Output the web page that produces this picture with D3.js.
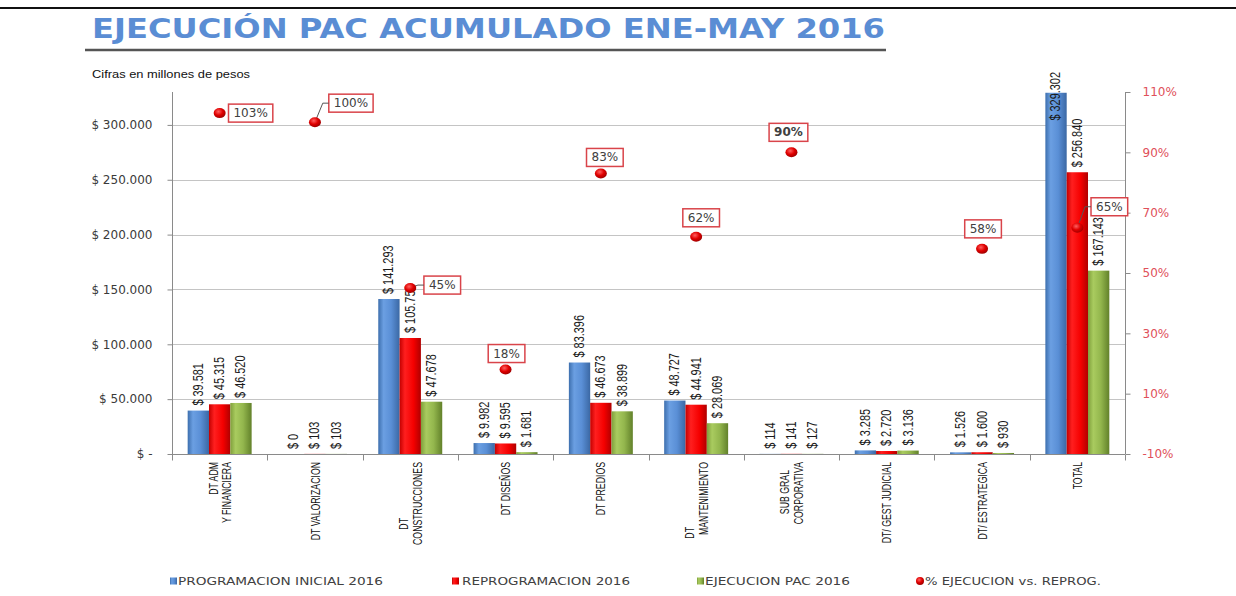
<!DOCTYPE html>
<html><head><meta charset="utf-8">
<script src="https://cdn.jsdelivr.net/npm/d3@7"></script>
<style>body{margin:0;background:#fff}</style>
</head><body><svg id="c" width="1236" height="596"></svg>
<script>
// ---- data ----
const title = "EJECUCIÓN PAC ACUMULADO ENE-MAY 2016";
const subtitle = "Cifras en millones de pesos";
const categories = [["DT ADM","Y FINANCIERA"],["DT VALORIZACION"],["DT","CONSTRUCCIONES"],["DT DISEÑOS"],["DT PREDIOS"],["DT","MANTENIMIENTO"],["SUB GRAL","CORPORATIVA"],["DT/ GEST JUDICIAL"],["DT/ ESTRATEGICA"],["TOTAL"]];
const seriesNames = ["PROGRAMACION INICIAL 2016","REPROGRAMACION 2016","EJECUCION PAC 2016"];
const pctName = "% EJECUCION vs. REPROG.";
const programacionInicial = [39581,0,141293,9982,83396,48727,114,3285,1526,329302];
const reprogramacion = [45315,103,105752,9595,46673,44941,141,2720,1600,256840];
const ejecucionPac = [46520,103,47678,1681,38899,28069,127,3136,930,167143];
const pctEjecucion = [103,100,45,18,83,62,90,null,58,65];
const leftTicks = [0,50000,100000,150000,200000,250000,300000];
const rightTicks = [-10,10,30,50,70,90,110];

// ---- layout (not data) ----
const plot = {x0:172, x1:1125, y0:92, y1:454};
const pctBox = [{dx:31,dy:0},{dx:36,dy:-19,leader:true},{dx:32,dy:-3,leader:true},{dx:1,dy:-16},{dx:4,dy:-16},{dx:5,dy:-19},{dx:-3,dy:-20,bold:true},null,{dx:1,dy:-20},{dx:32,dy:-21,leader:true}];
const xLabelShift = [[0,0],[0],[56,0],[0],[0],[65,0],[8,0],[0],[0],[0]];
const colors = ["blue","red","green"];
const SQ = 0.78;   // horizontal squeeze of value labels
const SQX = 0.7;   // squeeze of category labels

const svg = d3.select("#c");
const defs = svg.append("defs");
function hgrad(id, stops){
  const g = defs.append("linearGradient").attr("id",id).attr("x1","0").attr("x2","1").attr("y1","0").attr("y2","0");
  stops.forEach(s=>g.append("stop").attr("offset",s[0]).attr("stop-color",s[1]));
}
hgrad("blue",[["0%","#3d6fae"],["25%","#6b9fe2"],["60%","#5a8fd6"],["100%","#3b68a4"]]);
hgrad("red",[["0%","#c40000"],["25%","#ff1f1f"],["65%","#f50000"],["100%","#b00000"]]);
hgrad("green",[["0%","#7f9f3c"],["25%","#a9cb5f"],["60%","#93b64d"],["100%","#62812a"]]);
const rg = defs.append("radialGradient").attr("id","dot").attr("cx","40%").attr("cy","35%").attr("r","65%");
rg.append("stop").attr("offset","0%").attr("stop-color","#ff6060");
rg.append("stop").attr("offset","55%").attr("stop-color","#e00000");
rg.append("stop").attr("offset","100%").attr("stop-color","#a00000");

const sans = "'DejaVu Sans', 'Liberation Sans', sans-serif";
const lib = "'Liberation Sans', Arial, sans-serif";

// header
svg.append("line").attr("x1",0).attr("x2",1236).attr("y1",8).attr("y2",8).attr("stroke","#111").attr("stroke-width",2);
svg.append("text").attr("x",92).attr("y",38).attr("font-family",sans).attr("font-weight","bold")
  .attr("font-size",27).attr("fill","#5a8dd4").attr("textLength",793).attr("lengthAdjust","spacingAndGlyphs").text(title);
svg.append("line").attr("x1",85).attr("x2",886).attr("y1",50).attr("y2",50).attr("stroke","#555").attr("stroke-width",2.5);
svg.append("text").attr("x",92).attr("y",78).attr("font-family",lib)
  .attr("font-size",10.5).attr("fill","#111").attr("textLength",158).attr("lengthAdjust","spacingAndGlyphs").text(subtitle);

// scales
const x = d3.scaleBand().domain(d3.range(categories.length)).range([plot.x0, plot.x1]).paddingInner(0).paddingOuter(0);
const xs = d3.scaleBand().domain([0,1,2]).range([0, x.bandwidth()]).paddingInner(0).paddingOuter(0.735);
const y = d3.scaleLinear().domain([0,330000]).range([plot.y1, plot.y0]);
const y2 = d3.scaleLinear().domain([-10,110]).range([plot.y1, plot.y0]);
const loc = d3.formatLocale({decimal:",", thousands:".", grouping:[3], currency:["$",""]});
const fmt = loc.format(",");

// gridlines
svg.append("g").selectAll("line").data(leftTicks.filter(t=>t>0)).join("line")
  .attr("x1",plot.x0).attr("x2",plot.x1).attr("y1",d=>Math.round(y(d))+0.5).attr("y2",d=>Math.round(y(d))+0.5)
  .attr("stroke","#c4c4c4").attr("stroke-width",1);

// left axis
const la = svg.append("g").attr("transform",`translate(${plot.x0+0.5},0)`)
  .call(d3.axisLeft(y).tickValues(leftTicks).tickSize(5).tickPadding(15).tickFormat(d=>d===0?"$ -":"$ "+fmt(d)));
la.select(".domain").remove();
la.append("line").attr("y1",plot.y0).attr("y2",plot.y1).attr("stroke","#8a8a8a");
la.selectAll(".tick line").attr("stroke","#8a8a8a");
la.selectAll("text").attr("font-family",sans).attr("font-size",12).attr("fill","#3a3a3a");

// right axis
const ra = svg.append("g").attr("transform",`translate(${plot.x1+0.5},0)`)
  .call(d3.axisRight(y2).tickValues(rightTicks).tickSize(5).tickPadding(12).tickFormat(d=>d+"%"));
ra.select(".domain").remove();
ra.append("line").attr("y1",plot.y0).attr("y2",plot.y1).attr("stroke","#8a8a8a");
ra.selectAll(".tick line").attr("stroke","#8a8a8a");
ra.selectAll("text").attr("font-family",sans).attr("font-size",12).attr("fill","#e0505a");

// bottom axis
const ba = svg.append("g").attr("transform",`translate(0,${plot.y1+0.5})`);
ba.append("line").attr("x1",plot.x0).attr("x2",plot.x1).attr("stroke","#8a8a8a");
ba.selectAll("line.t").data(d3.range(categories.length+1)).join("line").attr("class","t")
  .attr("x1",d=>Math.round(plot.x0 + d*x.step())+0.5).attr("x2",d=>Math.round(plot.x0 + d*x.step())+0.5)
  .attr("y1",0).attr("y2",6).attr("stroke","#8a8a8a");

// bars
const seriesVals = [programacionInicial, reprogramacion, ejecucionPac];
const barG = svg.append("g");
const labG = svg.append("g");
seriesVals.forEach((vals, s)=>{
  barG.selectAll(null).data(vals).join("rect")
    .attr("x",(d,i)=>x(i)+xs(s)).attr("width",xs.bandwidth())
    .attr("y",d=>y(d)).attr("height",d=>Math.max(0,plot.y1-y(d)))
    .attr("fill",`url(#${colors[s]})`);
  vals.forEach((d,i)=>{
    const cx = x(i)+xs(s)+xs.bandwidth()/2;
    const t = labG.append("text").attr("font-family",lib).attr("font-size",14).attr("fill","#1a1a1a")
      .attr("text-anchor","start").attr("dominant-baseline","central").text("$ "+fmt(d));
    const len = t.node().getComputedTextLength()*SQ;
    let sy = y(d)-5;
    if (sy - len < 72) sy = 72 + len;
    t.attr("transform",`translate(${cx},${sy}) rotate(-90) scale(${SQ},1)`);
  });
});

// category labels
const xl = svg.append("g");
categories.forEach((lines,i)=>{
  const cx = x(i)+x.bandwidth()/2;
  const n = lines.length;
  lines.forEach((ln,j)=>{
    xl.append("text").attr("font-family",lib).attr("font-size",12.5).attr("fill","#111")
      .attr("text-anchor","end").attr("dominant-baseline","central")
      .attr("transform",`translate(${cx+(j-(n-1)/2)*13.5},${462+xLabelShift[i][j]}) rotate(-90) scale(${SQX},1)`).text(ln);
  });
});

// percentage points
const pg = svg.append("g");
pctEjecucion.forEach((p,i)=>{
  if (p===null || p>110 || p<-10) return;
  const px = x(i)+x.bandwidth()/2, py = y2(p);
  const b = pctBox[i];
  const label = p+"%";
  const bx = px+b.dx, by = py+b.dy;
  const t = pg.append("text").attr("x",bx).attr("y",by).attr("text-anchor","middle").attr("dominant-baseline","central")
    .attr("font-family",sans).attr("font-size",12).attr("fill","#404040").attr("font-weight",b.bold?"bold":"normal").text(label);
  const w = t.node().getComputedTextLength()+10, h = 18;
  pg.insert("rect","text").attr("x",bx-w/2).attr("y",by-h/2).attr("width",w).attr("height",h)
    .attr("fill","#fff").attr("stroke","#d9444a").attr("stroke-width",1.5);
  if (b.leader){
    const lx = bx-w/2;
    pg.append("polyline").attr("points",`${px},${py} ${lx-6},${by} ${lx},${by}`).attr("fill","none").attr("stroke","#555").attr("stroke-width",1);
  }
  pg.append("ellipse").attr("cx",px).attr("cy",py).attr("rx",6).attr("ry",5).attr("fill","url(#dot)");
});

// legend
const lg = svg.append("g");
const legendItems = [
  {name:seriesNames[0], mx:170, tx:178, w:205, kind:"blue"},
  {name:seriesNames[1], mx:452, tx:462, w:168, kind:"red"},
  {name:seriesNames[2], mx:697, tx:705, w:145, kind:"green"},
  {name:pctName, mx:920, tx:925, w:176, kind:"dot"}
];
legendItems.forEach(it=>{
  if (it.kind==="dot") lg.append("circle").attr("cx",it.mx).attr("cy",581).attr("r",4).attr("fill","url(#dot)");
  else lg.append("rect").attr("x",it.mx).attr("y",577.5).attr("width",7).attr("height",7).attr("fill",`url(#${it.kind})`);
  lg.append("text").attr("x",it.tx).attr("y",581).attr("dominant-baseline","central").attr("font-family",sans)
    .attr("font-size",10).attr("fill","#404040").attr("textLength",it.w).attr("lengthAdjust","spacingAndGlyphs").text(it.name);
});
</script></body></html>
